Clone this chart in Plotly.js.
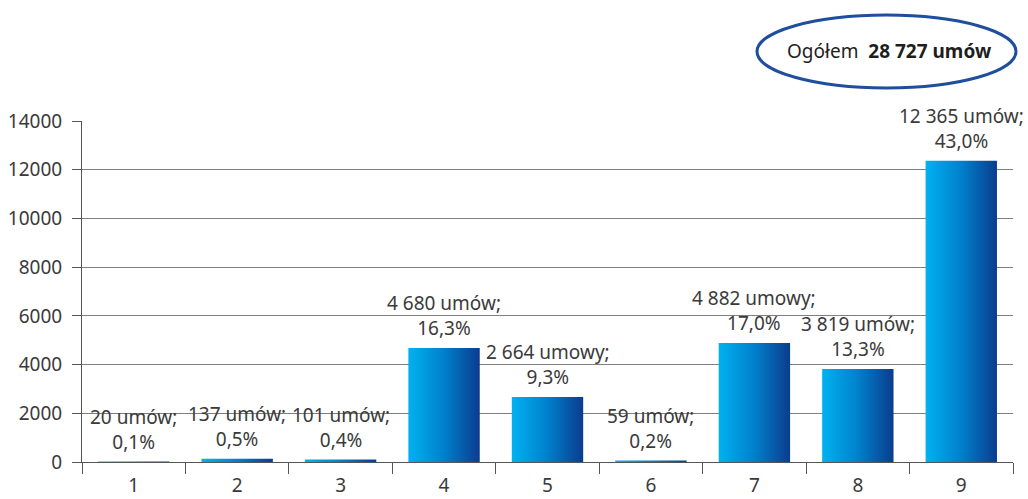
<!DOCTYPE html>
<html>
<head>
<meta charset="utf-8">
<script src="https://cdn.plot.ly/plotly-3.0.1.min.js"></script>
<style>
html,body{margin:0;padding:0;background:#fff;}
#chart{width:1028px;height:499px;}
</style>
</head>
<body>
<div id="chart"></div>
<script>
const categories = ['1','2','3','4','5','6','7','8','9'];
const counts = [20, 137, 101, 4680, 2664, 59, 4882, 3819, 12365];
const nouns = ['umów','umów','umów','umów','umowy','umów','umowy','umów','umów'];
const percents = [0.1, 0.5, 0.4, 16.3, 9.3, 0.2, 17.0, 13.3, 43.0];
const totalLabel = 'Ogółem&nbsp;&nbsp;<b>28 727 umów</b>';

function fmtInt(n){ return String(n).replace(/\B(?=(\d{3})+(?!\d))/g, ' '); }
function fmtPct(p){ return p.toFixed(1).replace('.', ',') + '%'; }
const texts = counts.map((c,i) => fmtInt(c) + ' ' + nouns[i] + ';<br>' + fmtPct(percents[i]));

const textColor = '#3a3a3a';
const font = {family: 'Noto Sans, sans-serif', size: 19, color: textColor};

const trace = {
  type: 'bar',
  x: categories,
  y: counts,
  marker: {color: '#0077c8', line: {width: 0}},
  hoverinfo: 'none'
};

// annotations on a category axis are placed by category index
const labelAnnotations = categories.map((c,i) => ({
  x: i, y: counts[i], xref: 'x', yref: 'y',
  text: texts[i], showarrow: false,
  xanchor: 'center', yanchor: 'bottom', yshift: 5,
  font: font, align: 'center'
}));

const layout = {
  width: 1028, height: 499,
  margin: {l: 82, r: 15, t: 121, b: 37},
  paper_bgcolor: '#fff', plot_bgcolor: '#fff',
  showlegend: false,
  bargap: 0.31,
  font: font,
  xaxis: {
    type: 'category',
    range: [-0.5, categories.length - 0.5],
    showline: true, linecolor: '#555', linewidth: 1,
    ticks: 'outside', tickson: 'boundaries', ticklen: 11, tickcolor: '#555',
    ticklabelstandoff: 6,
    tickfont: font, showgrid: false, zeroline: false, fixedrange: true
  },
  yaxis: {
    range: [0, 14000], dtick: 2000, tickformat: 'd',
    showline: true, linecolor: '#555', linewidth: 1,
    ticks: 'outside', ticklen: 9, tickcolor: '#555',
    ticklabelstandoff: 6,
    gridcolor: '#7f7f7f', gridwidth: 1, zeroline: false,
    tickfont: font, fixedrange: true
  },
  shapes: [{
    type: 'circle', xref: 'paper', yref: 'paper',
    x0: (757-82)/931, x1: (1016-82)/931,
    y0: (462-88)/341, y1: (462-15)/341,
    line: {color: '#1f4f9c', width: 3}, fillcolor: 'rgba(0,0,0,0)'
  }],
  annotations: labelAnnotations.concat([{
    xref: 'paper', yref: 'paper',
    x: (889-82)/931, y: (462-51)/341,
    text: totalLabel, showarrow: false,
    font: {family: 'Noto Sans, sans-serif', size: 19, color: '#1e1e1e'},
    xanchor: 'center', yanchor: 'middle'
  }])
};

function applyGradient(){
  const gd = document.getElementById('chart');
  const svg = gd.querySelector('svg.main-svg');
  if(!svg) return;
  let defs = svg.querySelector('defs');
  if(!defs){ defs = document.createElementNS('http://www.w3.org/2000/svg','defs'); svg.insertBefore(defs, svg.firstChild); }
  if(!svg.querySelector('#barGrad')){
    const lg = document.createElementNS('http://www.w3.org/2000/svg','linearGradient');
    lg.setAttribute('id','barGrad');
    lg.setAttribute('x1','0'); lg.setAttribute('y1','0');
    lg.setAttribute('x2','1'); lg.setAttribute('y2','0');
    [['0','#00b2f0'],['0.5','#0080cc'],['1','#0b3c8e']].forEach(([o,c])=>{
      const s = document.createElementNS('http://www.w3.org/2000/svg','stop');
      s.setAttribute('offset',o); s.setAttribute('stop-color',c);
      lg.appendChild(s);
    });
    defs.appendChild(lg);
  }
  gd.querySelectorAll('.trace.bars .point path').forEach(p => { p.style.fill = 'url(#barGrad)'; });
}

Plotly.newPlot('chart', [trace], layout, {displayModeBar: false, staticPlot: true}).then(() => {
  applyGradient();
  document.getElementById('chart').on('plotly_afterplot', applyGradient);
});
</script>
</body>
</html>
